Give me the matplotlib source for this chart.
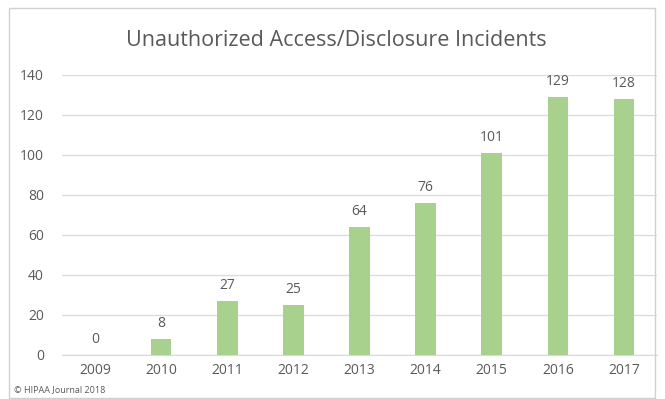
import numpy as np
import matplotlib.pyplot as plt
from matplotlib.patches import Rectangle

years = ['2009', '2010', '2011', '2012', '2013', '2014', '2015', '2016', '2017']
incidents = [0, 8, 27, 25, 64, 76, 101, 129, 128]

plt.rcParams['font.family'] = ['Open Sans', 'DejaVu Sans']
gray = '#595959'

fig = plt.figure(figsize=(6.65, 3.99), dpi=100)
ax = fig.add_axes([62/665, 1-355/399, 595/665, 280/399])

x = np.arange(len(years))
bars = ax.bar(x, incidents, width=0.31, color='#A9D18E', zorder=3)
for xi, v in zip(x, incidents):
    ax.text(xi, v + 4, str(v), ha='center', va='bottom', fontsize=10, color=gray)

ax.set_xlim(-0.5, 8.5)
ax.set_ylim(0, 140)
ax.set_yticks(range(0, 141, 20))
ax.set_xticks(x)
ax.set_xticklabels(years)
ax.grid(axis='y', color='#dcdcdc', linewidth=1, zorder=0)
for s in ['top', 'right', 'left']:
    ax.spines[s].set_visible(False)
ax.spines['bottom'].set_color('#d9d9d9')
ax.tick_params(length=0, colors=gray, labelsize=10)
ax.tick_params(axis='y', pad=13)
ax.tick_params(axis='x', pad=6)

fig.text(0.505, 1-40/399, 'Unauthorized Access/Disclosure Incidents',
         ha='center', va='center', fontsize=15.5, color=gray)
fig.text(14/665, 1-390/399, '\u00a9 HIPAA Journal 2018', ha='left', va='center',
         fontsize=6.5, color=gray)

fig.patches.append(Rectangle((9/665, 1/399), 646/665, 390/399, transform=fig.transFigure,
                             fill=False, edgecolor='#d0d0d0', linewidth=1))

fig.savefig('out.png', dpi=100)
